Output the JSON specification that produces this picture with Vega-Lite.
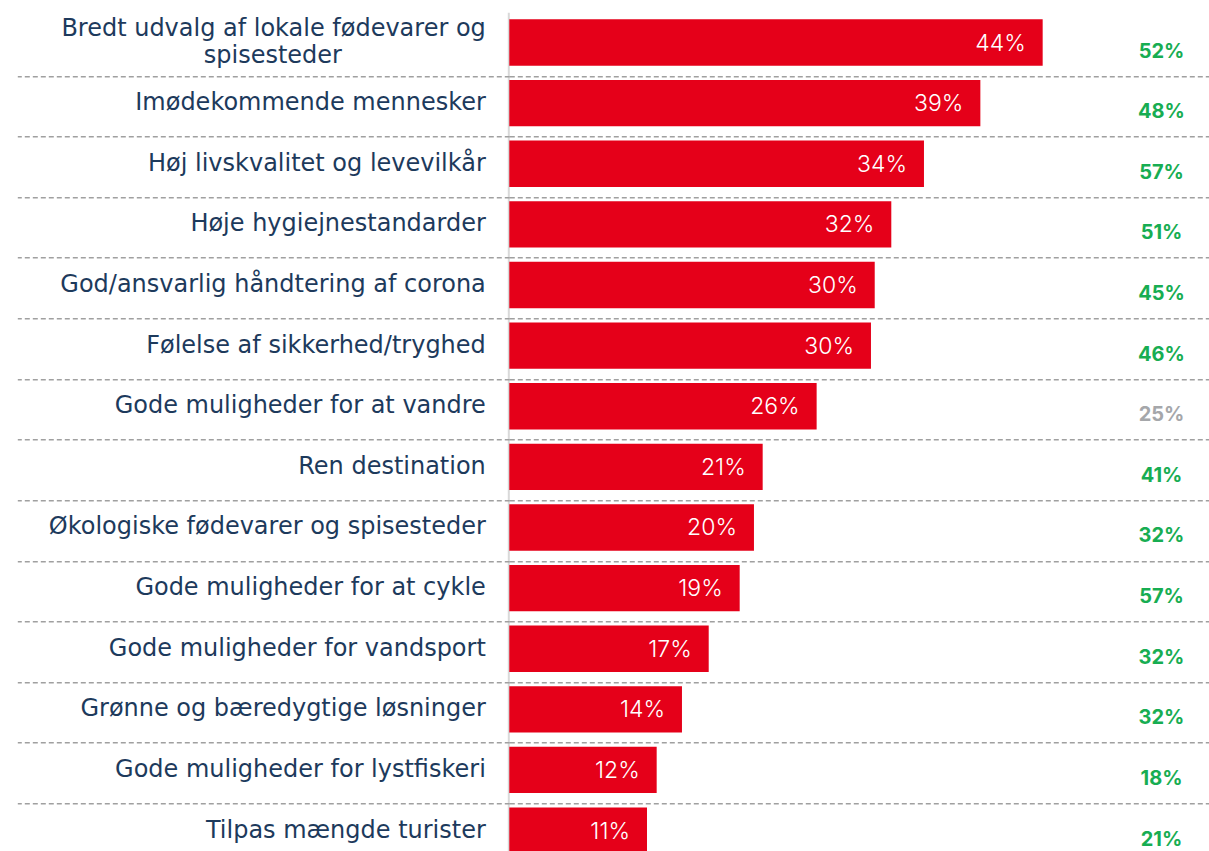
{
  "$schema": "https://vega.github.io/schema/vega-lite/v6.json",
  "width": 700,
  "height": 848.7,
  "autosize": "none",
  "padding": {"left": 509.3, "top": 12.2, "right": 0, "bottom": 0},
  "background": "white",
  "config": {"view": {"stroke": null}},
  "data": {
    "values": [
      {"item": "Bredt udvalg af lokale fødevarer og spisesteder", "value": 44.08, "pct": "44%", "other": "52%", "sig": "yes"},
      {"item": "Imødekommende mennesker", "value": 38.93, "pct": "39%", "other": "48%", "sig": "yes"},
      {"item": "Høj livskvalitet og levevilkår", "value": 34.27, "pct": "34%", "other": "57%", "sig": "yes"},
      {"item": "Høje hygiejnestandarder", "value": 31.57, "pct": "32%", "other": "51%", "sig": "yes"},
      {"item": "God/ansvarlig håndtering af corona", "value": 30.2, "pct": "30%", "other": "45%", "sig": "yes"},
      {"item": "Følelse af sikkerhed/tryghed", "value": 29.89, "pct": "30%", "other": "46%", "sig": "yes"},
      {"item": "Gode muligheder for at vandre", "value": 25.4, "pct": "26%", "other": "25%", "sig": "no"},
      {"item": "Ren destination", "value": 20.94, "pct": "21%", "other": "41%", "sig": "yes"},
      {"item": "Økologiske fødevarer og spisesteder", "value": 20.22, "pct": "20%", "other": "32%", "sig": "yes"},
      {"item": "Gode muligheder for at cykle", "value": 19.04, "pct": "19%", "other": "57%", "sig": "yes"},
      {"item": "Gode muligheder for vandsport", "value": 16.48, "pct": "17%", "other": "32%", "sig": "yes"},
      {"item": "Grønne og bæredygtige løsninger", "value": 14.27, "pct": "14%", "other": "32%", "sig": "yes"},
      {"item": "Gode muligheder for lystfiskeri", "value": 12.18, "pct": "12%", "other": "18%", "sig": "yes"},
      {"item": "Tilpas mængde turister", "value": 11.38, "pct": "11%", "other": "21%", "sig": "yes"}
    ]
  },
  "encoding": {
    "y": {"field": "item", "type": "nominal", "sort": null, "scale": {"paddingInner": 0, "paddingOuter": 0}}
  },
  "resolve": {"axis": {"y": "independent"}},
  "layer": [
    {
      "mark": {"type": "bar", "color": "#e50019", "height": {"band": 0.764}},
      "encoding": {
        "x": {"field": "value", "type": "quantitative", "scale": {"domain": [0, 57.85], "nice": false}, "axis": null},
        "y": {
          "field": "item", "type": "nominal", "sort": null,
          "axis": {
            "title": null, "orient": "left", "offset": 1,
            "domain": true, "domainColor": "#d9d9d9", "domainWidth": 2,
            "ticks": false, "grid": false,
            "labelFont": "DejaVu Sans", "labelFontSize": 24, "labelColor": "#1d3a5c",
            "labelPadding": 23, "labelLimit": 0, "labelLineHeight": 28,
            "labelOffset": {"condition": {"test": "datum.value === 'Bredt udvalg af lokale fødevarer og spisesteder'", "value": -14}, "value": 0},
            "labelExpr": "datum.value === 'Bredt udvalg af lokale fødevarer og spisesteder' ? ['Bredt udvalg af lokale fødevarer og', 'spisesteder\u2002\u2002\u2002\u2002\u2002\u2002\u2002\u2002\u2002\u2002\u2002\u2002\u2060'] : datum.label"
          }
        }
      }
    },
    {
      "mark": {"type": "text", "align": "right", "baseline": "middle", "dx": -17, "dy": 1, "color": "white", "font": "Inter", "fontWeight": 300, "fontSize": 23},
      "encoding": {
        "x": {"field": "value", "type": "quantitative"},
        "y": {"field": "item", "type": "nominal", "sort": null, "axis": null},
        "text": {"field": "pct"}
      }
    },
    {
      "mark": {"type": "text", "align": "center", "baseline": "middle", "dy": 9, "font": "Inter", "fontWeight": "bold", "fontSize": 20},
      "encoding": {
        "x": {"datum": 53.9, "type": "quantitative"},
        "y": {
          "field": "item", "type": "nominal", "sort": null,
          "axis": {
            "title": null, "orient": "left", "labels": false, "domain": false,
            "ticks": true, "tickSize": 492, "tickColor": "#a0a0a0", "tickWidth": 1.5, "tickDash": [5, 3],
            "grid": true, "gridColor": "#a0a0a0", "gridWidth": 1.5, "gridDash": [5, 3],
            "bandPosition": 0, "tickOffset": 3,
            "values": ["Imødekommende mennesker", "Høj livskvalitet og levevilkår", "Høje hygiejnestandarder", "God/ansvarlig håndtering af corona", "Følelse af sikkerhed/tryghed", "Gode muligheder for at vandre", "Ren destination", "Økologiske fødevarer og spisesteder", "Gode muligheder for at cykle", "Gode muligheder for vandsport", "Grønne og bæredygtige løsninger", "Gode muligheder for lystfiskeri", "Tilpas mængde turister"]
          }
        },
        "text": {"field": "other"},
        "color": {"field": "sig", "type": "nominal", "scale": {"domain": ["yes", "no"], "range": ["#17ad52", "#a5a7aa"]}, "legend": null}
      }
    }
  ]
}
